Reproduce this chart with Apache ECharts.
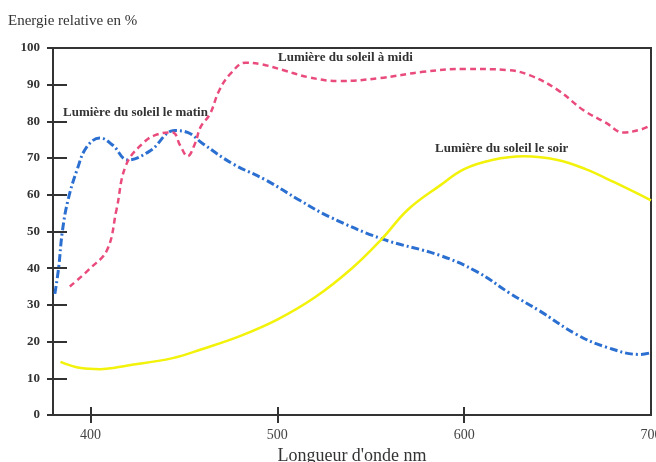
<!DOCTYPE html>
<html lang="fr">
<head>
    <meta charset="UTF-8">
    <title>index</title>
    <script src="https://cdn.jsdelivr.net/npm/echarts@6/dist/echarts.min.js"></script>
    <style>
        html, body { margin: 0; padding: 0; background: #fff; }
        #chart { width: 656px; height: 462px; }
    </style>
</head>
<body>
<div id="chart"></div>
<script>
    // valeurs : [longueur d'onde nm, énergie %]
    var matin = [[381,33],[383,40],[385,50],[388,58.5],[393,67],[398,73],[405,75.5],[412,73.5],[420,69.5],
        [432,72],[445,77.5],[452,77],[460,74],[476,68.5],[494,64],[512,58.5],[528,54],[556,48],[587,43.5],
        [607,39],[625,33],[640,28.5],[660,22],[676,18.5],[694,16.5],[700,17]];
    var midi = [[389,35],[400,40],[409,45],[414,56],[419,68],[428,74],[436,76.5],[444,77],[448,73.5],[452,70.5],
        [456,74],[459,78.5],[464,82],[469,88.5],[475,93],[483,96],[492,95.5],[503,94],[517,92],[533,91],
        [555,91.8],[578,93.5],[601,94.3],[623,94],[635,92.6],[650,88.6],[664,83],[676,79.6],[685,77],[694,77.7],[700,79]];
    var soir = [[384,14.5],[395,12.8],[405,12.5],[420,13.5],[444,15.5],[460,18],[480,21.5],[500,26],[520,32],
        [540,40],[556,48],[570,56],[587,62.5],[600,67],[615,69.5],[632,70.5],[650,69.5],[665,67],[680,63.5],[700,58.5]];
    var xTicks = [400, 500, 600];
    var xLabels = [400, 500, 600, 700];

    var serif = '"Liberation Serif", "DejaVu Serif", serif';
    var ink = '#333';

    var chart = echarts.init(document.getElementById('chart'));
    chart.setOption({
        backgroundColor: '#fff',
        animation: false,
        grid: { left: 53, top: 48, right: 5, bottom: 47, outerBoundsMode: 'none',
            show: true, borderColor: ink, borderWidth: 2 },
        xAxis: [{
            type: 'value', min: 380, max: 700,
            splitLine: { show: false },
            axisLine: { lineStyle: { color: ink, width: 2 } },
            axisTick: { customValues: xTicks, length: 8, lineStyle: { color: ink, width: 2 } },
            axisLabel: { customValues: xLabels, margin: 13, color: '#444', fontFamily: serif, fontSize: 14 },
            name: "Longueur d'onde nm", nameLocation: 'middle', nameGap: 25,
            nameTextStyle: { color: ink, fontFamily: serif, fontSize: 18 }
        }, {
            type: 'value', min: 380, max: 700, position: 'bottom',
            splitLine: { show: false }, axisLine: { show: false }, axisLabel: { show: false },
            axisTick: { customValues: xTicks, inside: true, length: 8, lineStyle: { color: ink, width: 2 } }
        }],
        yAxis: [{
            type: 'value', min: 0, max: 100, interval: 10,
            splitLine: { show: false },
            axisLine: { show: true, lineStyle: { color: ink, width: 2 } },
            axisTick: { show: true, length: 6, lineStyle: { color: ink, width: 2 } },
            axisLabel: { margin: 13, color: ink, fontFamily: serif, fontSize: 13, fontWeight: 'bold' }
        }, {
            type: 'value', min: 0, max: 100, interval: 10, position: 'left',
            splitLine: { show: false }, axisLine: { show: false }, axisLabel: { show: false },
            axisTick: { show: true, inside: true, length: 14, lineStyle: { color: ink, width: 2 } }
        }],
        series: [{
            name: 'Lumière du soleil le matin', type: 'line', data: matin, smooth: 0.4, symbol: 'none',
            lineStyle: { color: '#2b6fd1', width: 3, type: [8, 3, 2, 3] }
        }, {
            name: 'Lumière du soleil à midi', type: 'line', data: midi, smooth: 0.4, symbol: 'none',
            lineStyle: { color: '#ea4b7d', width: 2.5, type: [6, 4] }
        }, {
            name: 'Lumière du soleil le soir', type: 'line', data: soir, smooth: 0.4, symbol: 'none',
            lineStyle: { color: '#f2f20a', width: 2.5 }
        }],
        graphic: [
            { type: 'text', left: 8, top: 14, style: { text: 'Energie relative en %', fill: ink, font: '15px ' + serif } },
            { type: 'text', left: 278, top: 51, style: { text: 'Lumière du soleil à midi', fill: ink, font: 'bold 13px ' + serif } },
            { type: 'text', left: 63, top: 106, style: { text: 'Lumière du soleil le matin', fill: ink, font: 'bold 13px ' + serif } },
            { type: 'text', left: 435, top: 142, style: { text: 'Lumière du soleil le soir', fill: ink, font: 'bold 13px ' + serif } }
        ]
    });
</script>
</body>
</html>
